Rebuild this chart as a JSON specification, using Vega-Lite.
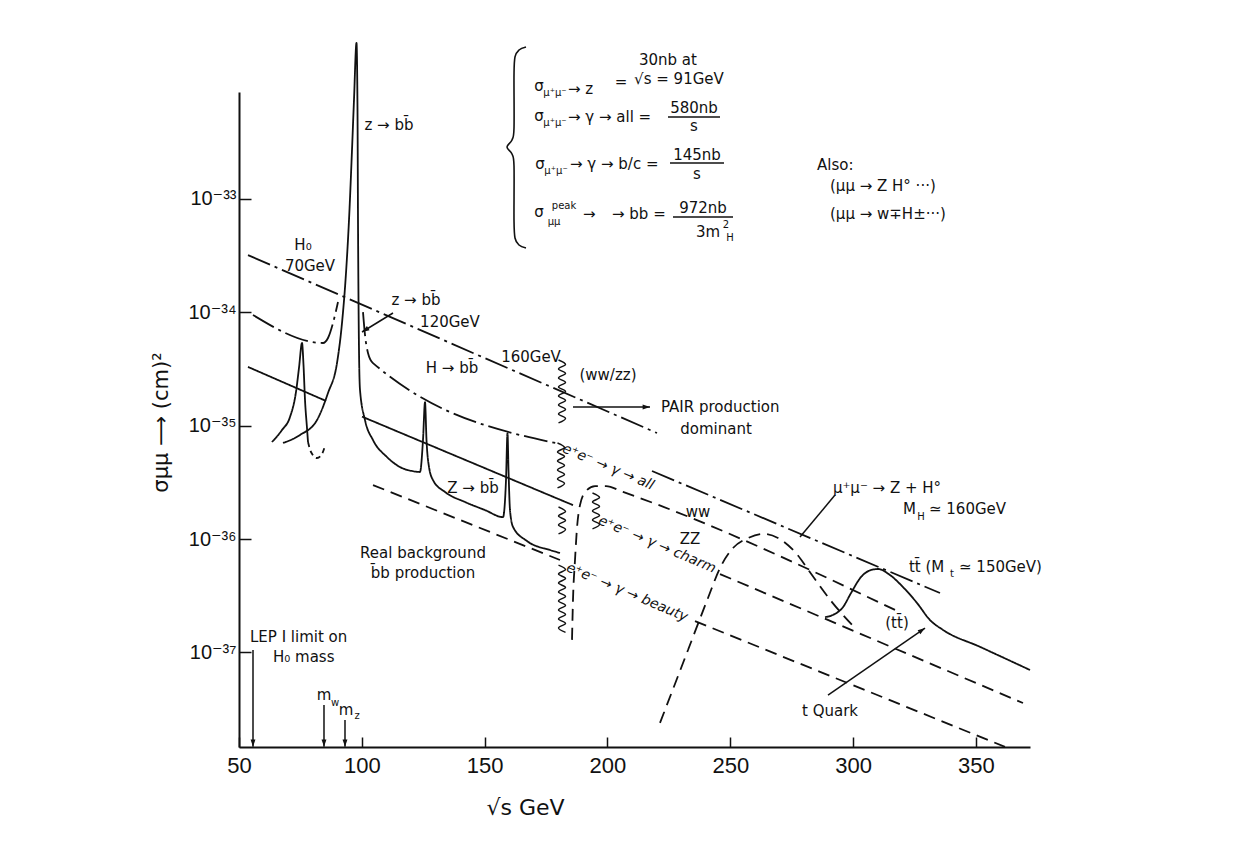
{
  "$schema": "https://vega.github.io/schema/vega-lite/v6.json",
  "width": 791,
  "height": 655,
  "autosize": {"type": "none"},
  "padding": {"left": 239, "top": 92, "right": 211, "bottom": 110},
  "background": "white",
  "config": {"view": {"stroke": null}, "font": "DejaVu Sans"},
  "datasets": {
    "curves": [
      {"s": "Z", "x": 67.91, "y": 7.03e-36}, {"s": "Z", "x": 74.83, "y": 8.26e-36}, {"s": "Z", "x": 81.75, "y": 1.12e-35},
      {"s": "Z", "x": 86.23, "y": 1.94e-35}, {"s": "Z", "x": 89.89, "y": 3.56e-35}, {"s": "Z", "x": 91.93, "y": 8.03e-35},
      {"s": "Z", "x": 93.56, "y": 2.22e-34}, {"s": "Z", "x": 94.78, "y": 6.5e-34}, {"s": "Z", "x": 96.0, "y": 2.69e-33},
      {"s": "Z", "x": 96.81, "y": 7.43e-33}, {"s": "Z", "x": 97.83, "y": 2.37e-32}, {"s": "Z", "x": 98.24, "y": 6.07e-33},
      {"s": "Z", "x": 98.44, "y": 6.5e-34}, {"s": "Z", "x": 98.65, "y": 1.28e-34}, {"s": "Z", "x": 98.85, "y": 4.64e-35},
      {"s": "Z", "x": 99.26, "y": 2.06e-35}, {"s": "Z", "x": 101.29, "y": 1.12e-35}, {"s": "Z", "x": 104.55, "y": 7.46e-36},
      {"s": "Z", "x": 110.25, "y": 5.28e-36}, {"s": "Z", "x": 115.54, "y": 4.31e-36}, {"s": "Z", "x": 120.42, "y": 3.98e-36},
      {"s": "Z", "x": 123.68, "y": 3.9e-36}, {"s": "Z", "x": 124.9, "y": 7.46e-36}, {"s": "Z", "x": 125.72, "y": 1.61e-35},
      {"s": "Z", "x": 126.33, "y": 7.46e-36}, {"s": "Z", "x": 127.35, "y": 4.31e-36}, {"s": "Z", "x": 128.97, "y": 3.31e-36},
      {"s": "Z", "x": 133.86, "y": 2.6e-36}, {"s": "Z", "x": 142.0, "y": 2.12e-36}, {"s": "Z", "x": 150.14, "y": 1.8e-36},
      {"s": "Z", "x": 157.47, "y": 1.56e-36}, {"s": "Z", "x": 158.69, "y": 3.31e-36}, {"s": "Z", "x": 159.3, "y": 8.6e-36},
      {"s": "Z", "x": 159.71, "y": 4.06e-36}, {"s": "Z", "x": 160.32, "y": 1.8e-36}, {"s": "Z", "x": 161.54, "y": 1.28e-36},
      {"s": "Z", "x": 167.24, "y": 9.6e-37}, {"s": "Z", "x": 176.6, "y": 8.0e-37}, {"s": "Z", "x": 180.67, "y": 7.53e-37},

      {"s": "H70", "x": 63.43, "y": 7.17e-36}, {"s": "H70", "x": 67.5, "y": 9.15e-36}, {"s": "H70", "x": 70.76, "y": 1.19e-35},
      {"s": "H70", "x": 73.2, "y": 1.98e-35}, {"s": "H70", "x": 74.42, "y": 3.22e-35}, {"s": "H70", "x": 75.65, "y": 5.35e-35},
      {"s": "H70", "x": 76.26, "y": 3.42e-35}, {"s": "H70", "x": 76.87, "y": 1.68e-35}, {"s": "H70", "x": 77.68, "y": 9.52e-36},
      {"s": "H70", "x": 78.09, "y": 7.17e-36},

      {"s": "H70tail", "x": 78.09, "y": 7.17e-36}, {"s": "H70tail", "x": 79.31, "y": 5.85e-36}, {"s": "H70tail", "x": 81.75, "y": 5.18e-36},
      {"s": "H70tail", "x": 83.79, "y": 5.62e-36}, {"s": "H70tail", "x": 85.01, "y": 6.61e-36},

      {"s": "Hpeak", "x": 53.66, "y": 3.19e-34}, {"s": "Hpeak", "x": 220.16, "y": 8.6e-36},

      {"s": "all_lo", "x": 55.7, "y": 9.45e-35}, {"s": "all_lo", "x": 84.19, "y": 5.35e-35}, {"s": "all_lo", "x": 86.23, "y": 5.92e-35},
      {"s": "all_lo", "x": 88.27, "y": 8.03e-35}, {"s": "all_lo", "x": 90.3, "y": 1.23e-34},

      {"s": "all_mid", "x": 100.48, "y": 1.0e-34}, {"s": "all_mid", "x": 101.29, "y": 6.3e-35}, {"s": "all_mid", "x": 102.51, "y": 4.37e-35},
      {"s": "all_mid", "x": 104.55, "y": 3.56e-35}, {"s": "all_mid", "x": 180.67, "y": 6.88e-36},

      {"s": "all_hi", "x": 218.12, "y": 3.98e-36}, {"s": "all_hi", "x": 335.36, "y": 3.34e-37},

      {"s": "bc_lo", "x": 53.66, "y": 3.29e-35}, {"s": "bc_lo", "x": 85.42, "y": 1.65e-35},
      {"s": "bc", "x": 100.07, "y": 1.2e-35}, {"s": "bc", "x": 185.96, "y": 1.99e-36},

      {"s": "charm", "x": 245.81, "y": 4.91e-37}, {"s": "charm", "x": 369.15, "y": 3.58e-38},

      {"s": "bkg", "x": 104.55, "y": 2.99e-36}, {"s": "bkg", "x": 180.67, "y": 6.53e-37},

      {"s": "beauty", "x": 235.63, "y": 1.89e-37}, {"s": "beauty", "x": 361.82, "y": 1.47e-38},

      {"s": "WWZZ", "x": 185.56, "y": 1.29e-37}, {"s": "WWZZ", "x": 185.96, "y": 2.9e-37}, {"s": "WWZZ", "x": 186.78, "y": 6.53e-37},
      {"s": "WWZZ", "x": 187.59, "y": 1.25e-36}, {"s": "WWZZ", "x": 188.81, "y": 1.99e-36}, {"s": "WWZZ", "x": 191.26, "y": 2.65e-36},
      {"s": "WWZZ", "x": 194.92, "y": 2.93e-36}, {"s": "WWZZ", "x": 199.4, "y": 2.93e-36}, {"s": "WWZZ", "x": 206.32, "y": 2.6e-36},
      {"s": "WWZZ", "x": 317.04, "y": 2.37e-37},

      {"s": "ZH", "x": 221.38, "y": 2.39e-38}, {"s": "ZH", "x": 232.78, "y": 1.05e-37}, {"s": "ZH", "x": 240.92, "y": 3.02e-37},
      {"s": "ZH", "x": 245.81, "y": 5.55e-37}, {"s": "ZH", "x": 251.1, "y": 8.33e-37}, {"s": "ZH", "x": 257.21, "y": 1.02e-36},
      {"s": "ZH", "x": 263.31, "y": 1.11e-36}, {"s": "ZH", "x": 269.42, "y": 1.02e-36}, {"s": "ZH", "x": 276.34, "y": 7.68e-37},
      {"s": "ZH", "x": 283.25, "y": 4.81e-37}, {"s": "ZH", "x": 291.39, "y": 2.78e-37}, {"s": "ZH", "x": 300.76, "y": 1.64e-37},

      {"s": "tt", "x": 288.55, "y": 2.05e-37}, {"s": "tt", "x": 291.76, "y": 2.14e-37}, {"s": "tt", "x": 295.88, "y": 2.51e-37},
      {"s": "tt", "x": 299.14, "y": 3.34e-37}, {"s": "tt", "x": 303.21, "y": 4.62e-37}, {"s": "tt", "x": 307.29, "y": 5.33e-37},
      {"s": "tt", "x": 310.12, "y": 5.44e-37}, {"s": "tt", "x": 315.01, "y": 4.81e-37}, {"s": "tt", "x": 320.3, "y": 3.77e-37},
      {"s": "tt", "x": 326.0, "y": 2.73e-37}, {"s": "tt", "x": 331.29, "y": 1.93e-37}, {"s": "tt", "x": 336.58, "y": 1.58e-37},
      {"s": "tt", "x": 351.65, "y": 1.12e-37}, {"s": "tt", "x": 372.0, "y": 7.0e-38}
    ],
    "brace": [
      {"i": 1, "x": 166.83, "y": 2.18e-32}, {"i": 2, "x": 163.98, "y": 2.05e-32}, {"i": 3, "x": 162.35, "y": 1.78e-32},
      {"i": 4, "x": 161.95, "y": 1.24e-32}, {"i": 5, "x": 161.95, "y": 4.21e-33}, {"i": 6, "x": 161.13, "y": 3.3e-33},
      {"i": 7, "x": 159.1, "y": 2.86e-33}, {"i": 8, "x": 161.13, "y": 2.48e-33}, {"i": 9, "x": 161.95, "y": 1.95e-33},
      {"i": 10, "x": 161.95, "y": 6.5e-34}, {"i": 11, "x": 162.35, "y": 4.51e-34}, {"i": 12, "x": 163.98, "y": 3.91e-34},
      {"i": 13, "x": 166.83, "y": 3.68e-34}
    ],
    "wavy": [
      {"w": "W1", "i": 0, "x": 180.07, "y": 3.789e-35}, {"w": "W1", "i": 1, "x": 182.92, "y": 3.459e-35}, {"w": "W1", "i": 2, "x": 180.07, "y": 3.157e-35},
      {"w": "W1", "i": 3, "x": 182.92, "y": 2.882e-35}, {"w": "W1", "i": 4, "x": 180.07, "y": 2.63e-35}, {"w": "W1", "i": 5, "x": 182.92, "y": 2.401e-35},
      {"w": "W1", "i": 6, "x": 180.07, "y": 2.192e-35}, {"w": "W1", "i": 7, "x": 182.92, "y": 2.001e-35}, {"w": "W1", "i": 8, "x": 180.07, "y": 1.826e-35},
      {"w": "W1", "i": 9, "x": 182.92, "y": 1.667e-35}, {"w": "W1", "i": 10, "x": 180.07, "y": 1.522e-35}, {"w": "W1", "i": 11, "x": 182.92, "y": 1.389e-35},
      {"w": "W1", "i": 12, "x": 180.07, "y": 1.268e-35}, {"w": "W1", "i": 13, "x": 182.92, "y": 1.157e-35}, {"w": "W1", "i": 14, "x": 180.07, "y": 1.056e-35},

      {"w": "W2", "i": 0, "x": 179.66, "y": 7.024e-36}, {"w": "W2", "i": 1, "x": 182.5, "y": 6.411e-36}, {"w": "W2", "i": 2, "x": 179.66, "y": 5.852e-36},
      {"w": "W2", "i": 3, "x": 182.5, "y": 5.342e-36}, {"w": "W2", "i": 4, "x": 179.66, "y": 4.876e-36}, {"w": "W2", "i": 5, "x": 182.5, "y": 4.451e-36},
      {"w": "W2", "i": 6, "x": 179.66, "y": 4.063e-36}, {"w": "W2", "i": 7, "x": 182.5, "y": 3.708e-36}, {"w": "W2", "i": 8, "x": 179.66, "y": 3.385e-36},
      {"w": "W2", "i": 9, "x": 182.5, "y": 3.09e-36}, {"w": "W2", "i": 10, "x": 179.66, "y": 2.82e-36},

      {"w": "W3", "i": 0, "x": 180.07, "y": 1.915e-36}, {"w": "W3", "i": 1, "x": 182.92, "y": 1.748e-36}, {"w": "W3", "i": 2, "x": 180.07, "y": 1.596e-36},
      {"w": "W3", "i": 3, "x": 182.92, "y": 1.457e-36}, {"w": "W3", "i": 4, "x": 180.07, "y": 1.33e-36}, {"w": "W3", "i": 5, "x": 182.92, "y": 1.214e-36},
      {"w": "W3", "i": 6, "x": 180.07, "y": 1.108e-36},

      {"w": "W4", "i": 0, "x": 180.07, "y": 5.898e-37}, {"w": "W4", "i": 1, "x": 182.92, "y": 5.384e-37}, {"w": "W4", "i": 2, "x": 180.07, "y": 4.914e-37},
      {"w": "W4", "i": 3, "x": 182.92, "y": 4.486e-37}, {"w": "W4", "i": 4, "x": 180.07, "y": 4.095e-37}, {"w": "W4", "i": 5, "x": 182.92, "y": 3.738e-37},
      {"w": "W4", "i": 6, "x": 180.07, "y": 3.412e-37}, {"w": "W4", "i": 7, "x": 182.92, "y": 3.114e-37}, {"w": "W4", "i": 8, "x": 180.07, "y": 2.843e-37},
      {"w": "W4", "i": 9, "x": 182.92, "y": 2.595e-37}, {"w": "W4", "i": 10, "x": 180.07, "y": 2.368e-37}, {"w": "W4", "i": 11, "x": 182.92, "y": 2.162e-37},
      {"w": "W4", "i": 12, "x": 180.07, "y": 1.973e-37}, {"w": "W4", "i": 13, "x": 182.92, "y": 1.801e-37}, {"w": "W4", "i": 14, "x": 180.07, "y": 1.644e-37},
      {"w": "W4", "i": 15, "x": 182.92, "y": 1.501e-37},

      {"w": "W5", "i": 0, "x": 193.9, "y": 2.545e-36}, {"w": "W5", "i": 1, "x": 196.76, "y": 2.323e-36}, {"w": "W5", "i": 2, "x": 193.9, "y": 2.121e-36},
      {"w": "W5", "i": 3, "x": 196.76, "y": 1.936e-36}, {"w": "W5", "i": 4, "x": 193.9, "y": 1.767e-36}, {"w": "W5", "i": 5, "x": 196.76, "y": 1.613e-36},
      {"w": "W5", "i": 6, "x": 193.9, "y": 1.472e-36}, {"w": "W5", "i": 7, "x": 196.76, "y": 1.344e-36}, {"w": "W5", "i": 8, "x": 193.9, "y": 1.227e-36}
    ],
    "rules": [
      {"x": 292.62, "y": 2.44e-36, "x2": 278.37, "y2": 1.04e-36},
      {"x": 289.77, "y": 4.21e-38, "x2": 329.26, "y2": 1.64e-37},
      {"x": 112.69, "y": 9.84e-35, "x2": 100.07, "y2": 6.69e-35},
      {"x": 185.96, "y": 1.46e-35, "x2": 217.31, "y2": 1.46e-35},
      {"x": 55.7, "y": 1.05e-37, "x2": 55.7, "y2": 1.47e-38},
      {"x": 84.6, "y": 3.44e-38, "x2": 84.6, "y2": 1.47e-38},
      {"x": 93.15, "y": 2.53e-38, "x2": 93.15, "y2": 1.47e-38},
      {"x": 224.64, "y": 5.26e-33, "x2": 245.81, "y2": 5.26e-33},
      {"x": 225.45, "y": 2.07e-33, "x2": 247.43, "y2": 2.07e-33},
      {"x": 226.67, "y": 6.91e-34, "x2": 251.1, "y2": 6.91e-34}
    ],
    "heads": [
      {"x": 329.26, "y": 1.64e-37, "dir": "upright"},
      {"x": 100.07, "y": 6.69e-35, "dir": "downleft"},
      {"x": 217.31, "y": 1.46e-35, "dir": "right"},
      {"x": 55.7, "y": 1.47e-38, "dir": "down"},
      {"x": 84.6, "y": 1.47e-38, "dir": "down"},
      {"x": 93.15, "y": 1.47e-38, "dir": "down"}
    ],
    "ctext": [
      {"x": 111.06, "y": 4.47e-33, "t": "z → bb̄"},
      {"x": 76.05, "y": 3.91e-34, "t": "H₀"},
      {"x": 78.9, "y": 2.56e-34, "t": "70GeV"},
      {"x": 122.05, "y": 1.28e-34, "t": "z → bb̄"},
      {"x": 135.89, "y": 8.2e-35, "t": "120GeV"},
      {"x": 168.87, "y": 4.03e-35, "t": "160GeV"},
      {"x": 136.71, "y": 3.22e-35, "t": "H → bb̄"},
      {"x": 200.21, "y": 2.79e-35, "t": "(ww/zz)"},
      {"x": 244.17, "y": 9.33e-36, "t": "dominant"},
      {"x": 145.26, "y": 2.82e-36, "t": "Z → bb̄"},
      {"x": 124.9, "y": 7.53e-37, "t": "Real background"},
      {"x": 124.9, "y": 5.01e-37, "t": "b̄b production"},
      {"x": 236.85, "y": 1.73e-36, "t": "ww"},
      {"x": 233.59, "y": 1.0e-36, "t": "ZZ"},
      {"x": 313.79, "y": 2.82e-36, "t": "μ⁺μ⁻ → Z + H°"},
      {"x": 317.86, "y": 1.82e-37, "t": "(tt̄)"},
      {"x": 290.58, "y": 3.04e-38, "t": "t Quark"},
      {"x": 84.6, "y": 4.21e-38, "t": "m"},
      {"x": 93.56, "y": 3.1e-38, "t": "m"},
      {"x": 172.12, "y": 9.88e-33, "t": "σ"},
      {"x": 172.12, "y": 5.37e-33, "t": "σ"},
      {"x": 172.53, "y": 2.03e-33, "t": "σ"},
      {"x": 172.12, "y": 7.65e-34, "t": "σ"},
      {"x": 205.5, "y": 1.07e-32, "t": "="},
      {"x": 224.6, "y": 1.67e-32, "t": "30nb at"},
      {"x": 229.1, "y": 1.14e-32, "t": "√s = 91GeV"},
      {"x": 235.22, "y": 6.32e-33, "t": "580nb"},
      {"x": 235.22, "y": 4.39e-33, "t": "s"},
      {"x": 236.44, "y": 2.43e-33, "t": "145nb"},
      {"x": 236.44, "y": 1.65e-33, "t": "s"},
      {"x": 238.88, "y": 8.3e-34, "t": "972nb"},
      {"x": 240.92, "y": 5.1e-34, "t": "3m"}
    ],
    "ltext": [
      {"x": 221.79, "y": 1.46e-35, "t": "PAIR production"},
      {"x": 320.3, "y": 1.84e-36, "t": "M"},
      {"x": 330.88, "y": 1.84e-36, "t": "≃ 160GeV"},
      {"x": 322.74, "y": 5.66e-37, "t": "tt̄ (M"},
      {"x": 343.1, "y": 5.66e-37, "t": "≃ 150GeV)"},
      {"x": 54.48, "y": 1.37e-37, "t": "LEP I limit on"},
      {"x": 63.84, "y": 9.11e-38, "t": "H₀ mass"},
      {"x": 183.93, "y": 9.29e-33, "t": "→ z"},
      {"x": 183.93, "y": 5.26e-33, "t": "→ γ → all ="},
      {"x": 184.74, "y": 2.03e-33, "t": "→ γ → b/c ="},
      {"x": 190.04, "y": 7.35e-34, "t": "→"},
      {"x": 201.84, "y": 7.35e-34, "t": "→ bb ="},
      {"x": 285.29, "y": 1.99e-33, "t": "Also:"},
      {"x": 290.58, "y": 1.3e-33, "t": "(μμ → Z H° ···)"},
      {"x": 290.58, "y": 7.35e-34, "t": "(μμ → w∓H±···)"}
    ],
    "stext": [
      {"x": 178.64, "y": 8.57e-33, "t": "μ⁺μ⁻"},
      {"x": 178.64, "y": 4.66e-33, "t": "μ⁺μ⁻"},
      {"x": 179.05, "y": 1.76e-33, "t": "μ⁺μ⁻"},
      {"x": 182.3, "y": 8.64e-34, "t": "peak"},
      {"x": 178.23, "y": 6.24e-34, "t": "μμ"},
      {"x": 248.25, "y": 5.87e-34, "t": "2"},
      {"x": 249.88, "y": 4.51e-34, "t": "H"},
      {"x": 327.63, "y": 1.56e-36, "t": "H"},
      {"x": 340.2, "y": 4.91e-37, "t": "t"},
      {"x": 89.08, "y": 3.58e-38, "t": "w"},
      {"x": 98.04, "y": 2.75e-38, "t": "z"}
    ],
    "rtext": [
      {"x": 181.9, "y": 6.35e-36, "t": "e⁺e⁻ → γ → all"},
      {"x": 196.55, "y": 1.47e-36, "t": "e⁺e⁻ → γ → charm"},
      {"x": 183.52, "y": 5.66e-37, "t": "e⁺e⁻ → γ → beauty"}
    ]
  },
  "encoding": {
    "x": {
      "field": "x", "type": "quantitative",
      "scale": {"domain": [50, 372], "nice": false, "zero": false},
      "axis": {
        "title": "√s  GeV", "values": [50, 100, 150, 200, 250, 300, 350], "grid": false,
        "tickSize": -10, "tickWidth": 1.5, "tickColor": "#111", "domainColor": "#111", "domainWidth": 2,
        "labelFontSize": 22, "labelFont": "Liberation Sans", "labelColor": "#111", "labelPadding": 18,
        "labelFlush": false, "labelOverlap": false,
        "titleFontSize": 22, "titleFontWeight": "normal", "titleColor": "#111", "titleFont": "DejaVu Sans",
        "titleX": 286, "titleY": 60, "titleAlign": "center", "titleBaseline": "middle"
      }
    },
    "y": {
      "field": "y", "type": "quantitative",
      "scale": {"type": "log", "domain": [1.466e-38, 8.74e-33], "nice": false},
      "axis": {
        "title": "σμμ  ⟶  (cm)²", "values": [1e-37, 1e-36, 1e-35, 1e-34, 1e-33], "grid": false,
        "labelExpr": "datum.value < 5e-37 ? '10⁻³⁷' : datum.value < 5e-36 ? '10⁻³⁶' : datum.value < 5e-35 ? '10⁻³⁵' : datum.value < 5e-34 ? '10⁻³⁴' : '10⁻³³'",
        "tickSize": -12, "tickWidth": 1.5, "tickColor": "#111", "domainColor": "#111", "domainWidth": 2,
        "labelFontSize": 20, "labelFont": "Liberation Sans, DejaVu Sans", "labelColor": "#111", "labelPadding": 15,
        "labelFlush": false, "labelOverlap": false,
        "titleFontSize": 21, "titleFontWeight": "normal", "titleColor": "#111", "titleFont": "DejaVu Sans",
        "titleX": -78, "titleY": 330, "titleAngle": 270, "titleAlign": "center", "titleBaseline": "middle"
      }
    }
  },
  "layer": [
    {
      "data": {"name": "curves"},
      "mark": {"type": "line", "interpolate": "monotone", "strokeWidth": 1.8, "color": "#111"},
      "encoding": {
        "detail": {"field": "s"},
        "strokeDash": {
          "field": "s", "type": "nominal", "legend": null,
          "scale": {
            "domain": ["Z", "H70", "H70tail", "Hpeak", "all_lo", "all_mid", "all_hi", "bc_lo", "bc", "charm", "bkg", "beauty", "WWZZ", "ZH", "tt"],
            "range": [[1, 0], [1, 0], [5, 4], [24, 5, 3, 5], [24, 5, 3, 5], [24, 5, 3, 5], [24, 5, 3, 5], [1, 0], [1, 0], [12, 7], [12, 7], [12, 7], [12, 7], [12, 7], [1, 0]]
          }
        }
      }
    },
    {
      "data": {"name": "brace"},
      "mark": {"type": "line", "interpolate": "cardinal", "strokeWidth": 1.6, "color": "#111"},
      "encoding": {"order": {"field": "i", "type": "quantitative"}}
    },
    {
      "data": {"name": "wavy"},
      "mark": {"type": "line", "interpolate": "cardinal", "strokeWidth": 1.4, "color": "#111"},
      "encoding": {"detail": {"field": "w"}, "order": {"field": "i", "type": "quantitative"}}
    },
    {
      "data": {"name": "rules"},
      "mark": {"type": "rule", "strokeWidth": 1.5, "color": "#111"},
      "encoding": {"x2": {"field": "x2"}, "y2": {"field": "y2"}}
    },
    {
      "data": {"name": "heads"},
      "mark": {"type": "point", "filled": true, "size": 150, "color": "#111", "opacity": 1, "strokeWidth": 0},
      "encoding": {
        "shape": {
          "field": "dir", "type": "nominal", "legend": null,
          "scale": {
            "domain": ["down", "right", "upright", "downleft"],
            "range": ["M0,0L0.4,-1.2L-0.4,-1.2Z", "M0,0L-1.2,0.4L-1.2,-0.4Z", "M0,0L-0.76,1.01L-1.21,0.35Z", "M0,0L0.81,-0.97L1.23,-0.29Z"]
          }
        }
      }
    },
    {
      "data": {"name": "ctext"},
      "mark": {"type": "text", "fontSize": 15, "font": "DejaVu Sans", "align": "center", "baseline": "middle", "color": "#111"},
      "encoding": {"text": {"field": "t"}}
    },
    {
      "data": {"name": "ltext"},
      "mark": {"type": "text", "fontSize": 15, "font": "DejaVu Sans", "align": "left", "baseline": "middle", "color": "#111"},
      "encoding": {"text": {"field": "t"}}
    },
    {
      "data": {"name": "stext"},
      "mark": {"type": "text", "fontSize": 10, "font": "DejaVu Sans", "align": "center", "baseline": "middle", "color": "#111"},
      "encoding": {"text": {"field": "t"}}
    },
    {
      "data": {"name": "rtext"},
      "mark": {"type": "text", "fontSize": 14, "font": "DejaVu Sans", "fontStyle": "italic", "align": "left", "baseline": "middle", "angle": 23, "color": "#111"},
      "encoding": {"text": {"field": "t"}}
    }
  ]
}
